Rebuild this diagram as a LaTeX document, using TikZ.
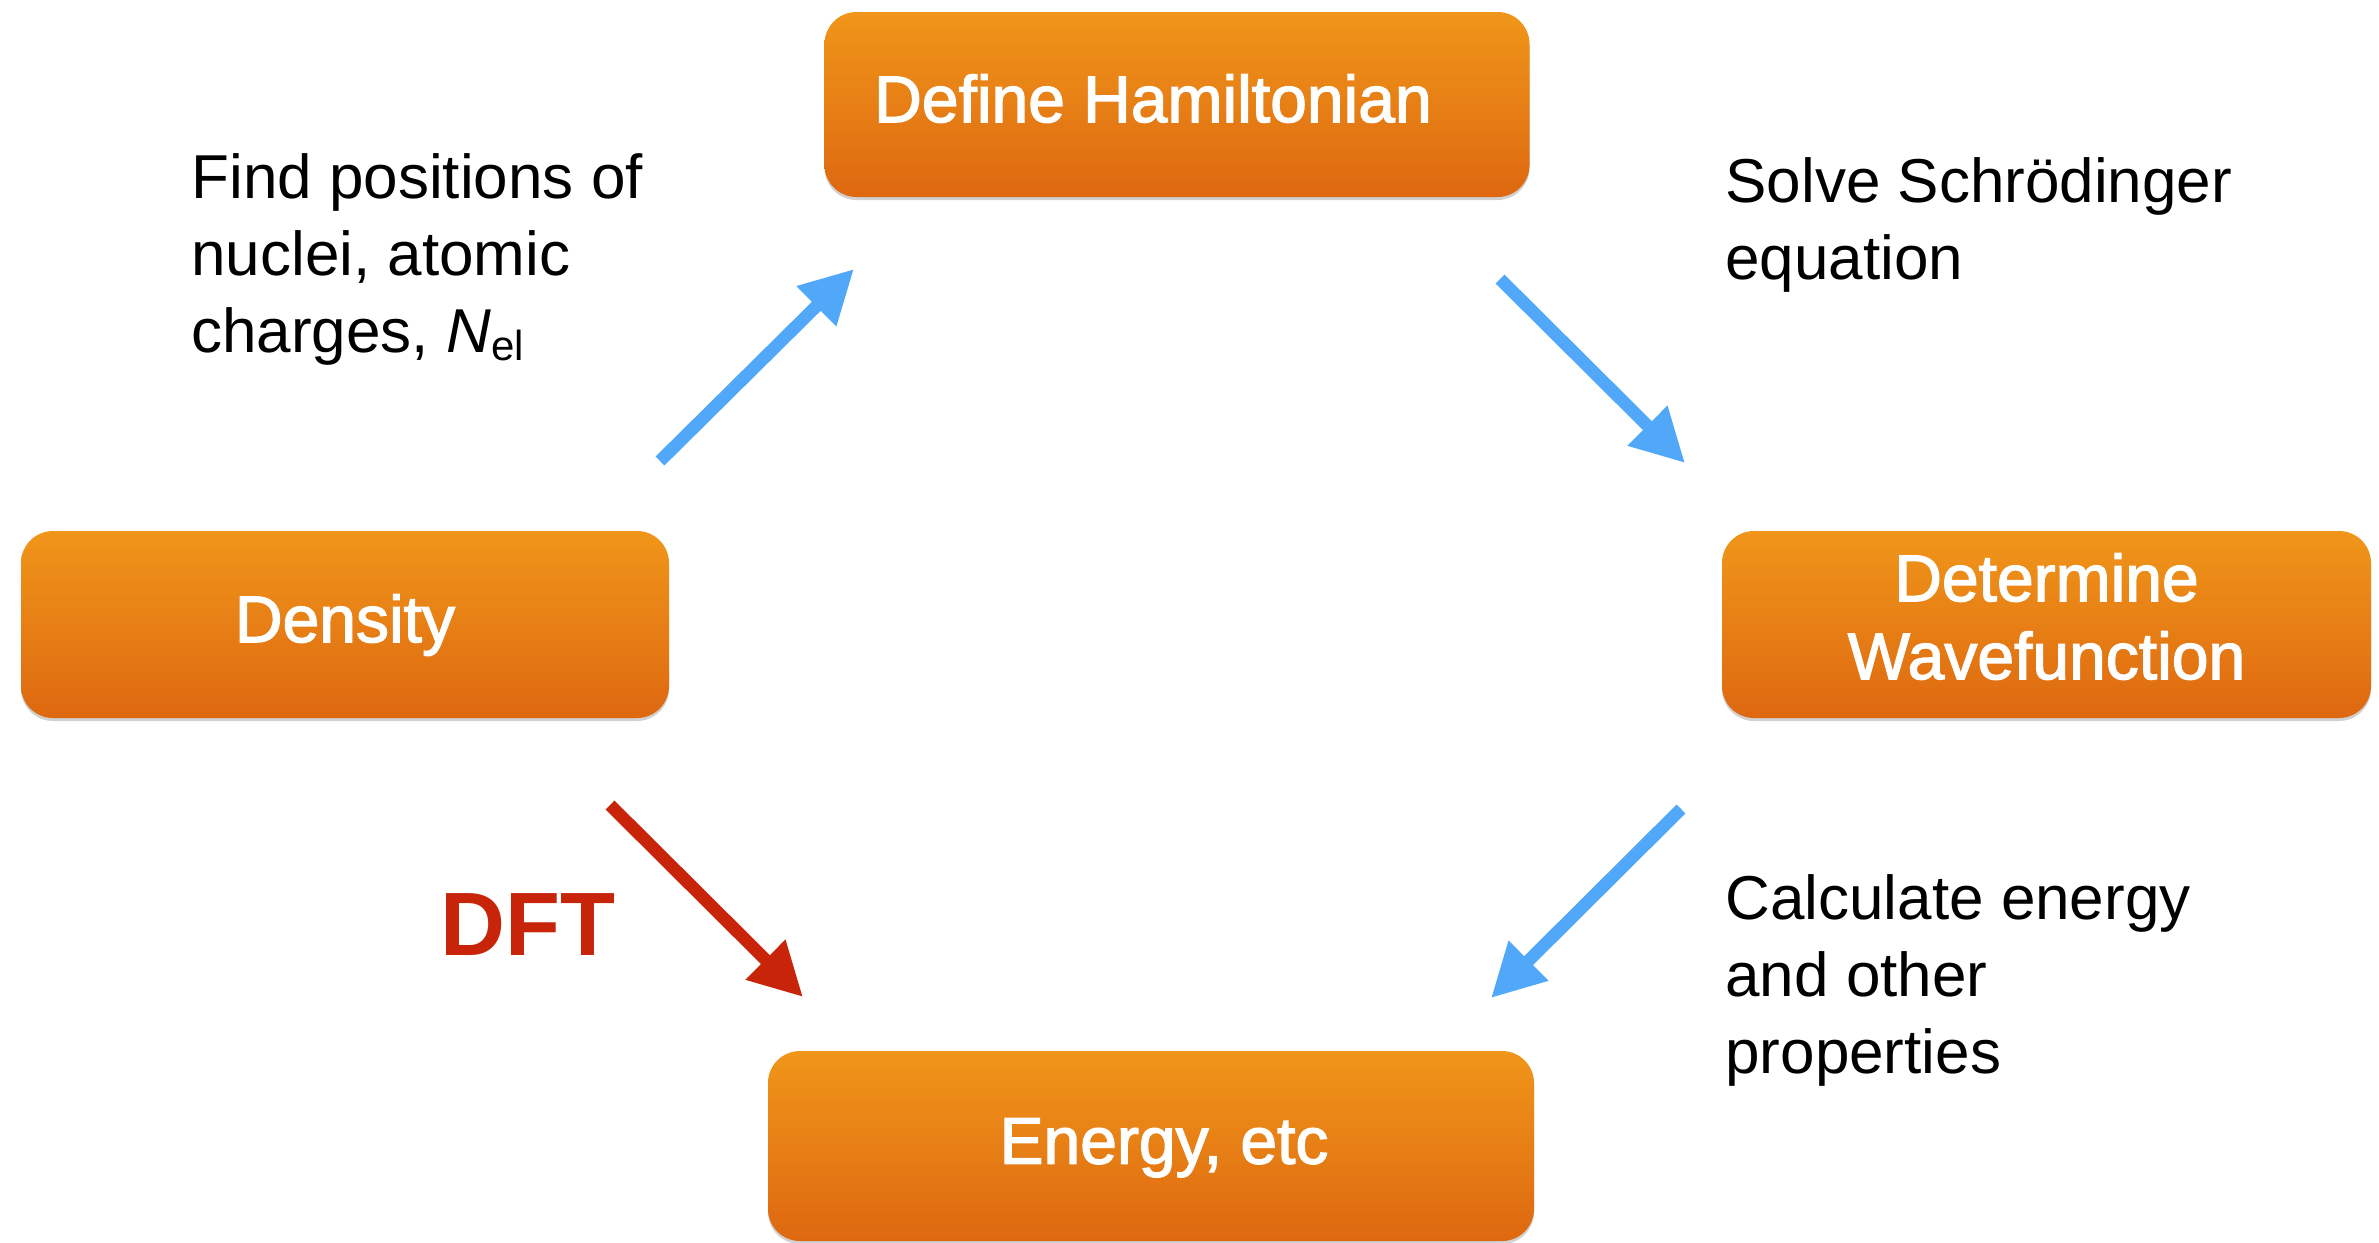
\documentclass[tikz,border=0pt]{standalone}
\usepackage{fontspec}
\setmainfont{Liberation Sans}
\newfontfamily\boxfont[FakeBold=2]{Liberation Sans}
\usetikzlibrary{arrows.meta,shadows}
\definecolor{boxtop}{RGB}{240,150,26}
\definecolor{boxbot}{RGB}{222,104,16}
\definecolor{flowblue}{RGB}{82,168,248}
\definecolor{dftred}{RGB}{200,36,10}
\begin{document}
\begin{tikzpicture}[x=0.5pt,y=-0.5pt,
  stepbox/.style={rounded corners=16pt, top color=boxtop, bottom color=boxbot, draw=none,
    drop shadow={shadow xshift=0pt,shadow yshift=-1.5pt,opacity=0.3,fill=black!60},
    text=white, font=\boxfont\fontsize{33}{39}\selectfont, align=center, inner sep=0pt},
  oneline/.style={text height=23pt, text depth=5.4pt},
  note/.style={anchor=base west, align=left, font=\fontsize{31}{38.5}\selectfont, inner sep=0pt},
  flow/.style={line width=6.3pt, -{Triangle[length=26.5pt,width=26.5pt]}}
]
\useasboundingbox (0,0) rectangle (2379,1243);

% process steps
\node[stepbox, oneline, minimum width=352.5pt, minimum height=92.5pt] (ham) at (1177,104.5) {Define Hamiltonian\hspace*{24pt}};
\node[stepbox, oneline, minimum width=324pt, minimum height=93.5pt] (dens) at (345,624.5) {Density};
\node[stepbox, minimum width=324.5pt, minimum height=93.5pt] (wave) at (2046.5,624.5)
  {\raisebox{4pt}{\begin{tabular}{@{}c@{}}Determine\\Wavefunction\end{tabular}}};
\node[stepbox, oneline, minimum width=383pt, minimum height=95pt] (energy) at (1151,1146) {\hspace*{13pt}Energy, etc};

% descriptions (anchored at the baseline of the last line)
\node[note] (find) at (191,352) {Find positions of\\nuclei, atomic\\charges, \textit{N}\raisebox{-0.25ex}{\fontsize{21}{21}\selectfont el}};
\node[note] (solve) at (1725,279) {Solve Schrödinger\\equation};
\node[note] (calc) at (1725,1073) {Calculate energy\\and other\\properties};
\node[anchor=base west, inner sep=0pt, text=dftred, font=\bfseries\fontsize{45}{45}\selectfont] (dft) at (440,955) {DFT};

% arrow end points
\coordinate (densOut) at (660,461);
\coordinate (hamIn) at (854,269);
\coordinate (hamOut) at (1500,279);
\coordinate (waveIn) at (1685,463);
\coordinate (waveOut) at (1681,809);
\coordinate (energyIn) at (1491,998);
\coordinate (dftOut) at (610,805);
\coordinate (dftIn) at (803,997);

\draw[flow, flowblue] (densOut) -- (hamIn);
\draw[flow, flowblue] (hamOut) -- (waveIn);
\draw[flow, flowblue] (waveOut) -- (energyIn);
\draw[flow, dftred] (dftOut) -- (dftIn);
\end{tikzpicture}
\end{document}
